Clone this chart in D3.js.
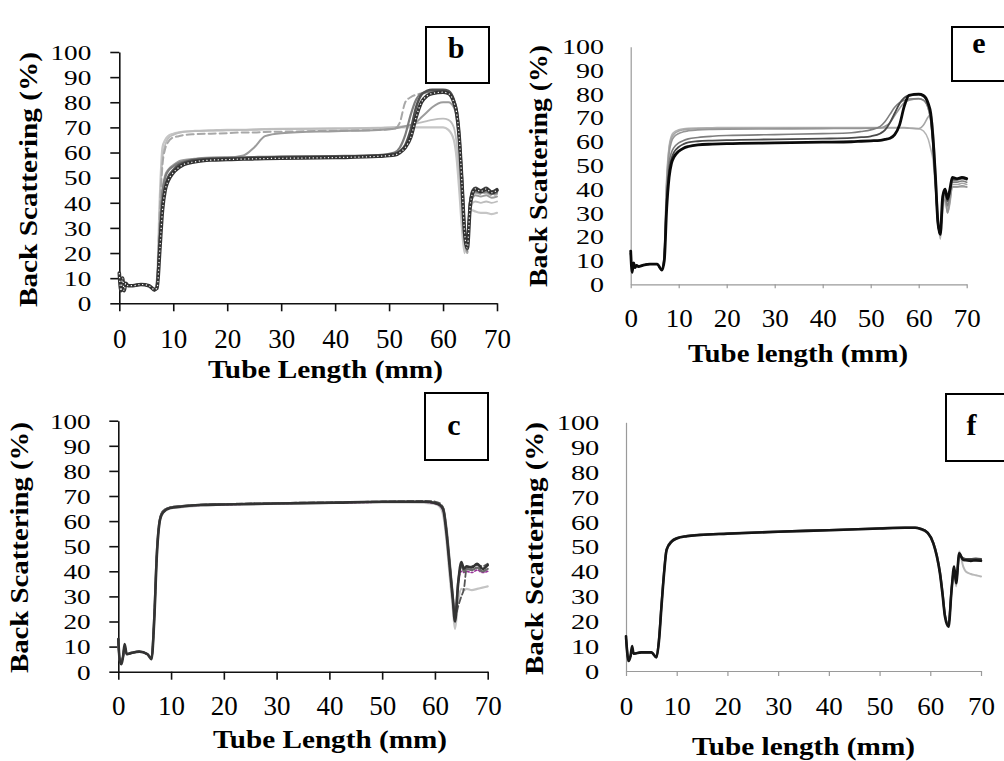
<!DOCTYPE html>
<html><head><meta charset="utf-8">
<script src="https://cdn.jsdelivr.net/npm/d3@7"></script>
<style>html,body{margin:0;padding:0;background:#fff;} svg{display:block}</style>
</head><body><svg id="chart" width="1004" height="761"></svg>
<script>
// ---------- tick labels ----------
const yTicks = [0,10,20,30,40,50,60,70,80,90,100];
const xTicks = [0,10,20,30,40,50,60,70];

// ---------- panel b ----------
const bX = [0,0.3,0.6,0.9,1.2,1.6,2.5,4,5.5,6.5,
            7,7.5,8,8.5,9,10,11,12,14,17,
            20,23,25,27,30,40,48,51,52,53,
            54,55,56,57,58,60,61,62,62.5,63,
            63.5,64,64.5,65,65.5,66,67,68,69,70];
const bLight1 = [12,6,10,6,8,7,7,7.5,7,5.5,
 10,42,62,65,66.5,67.5,68,68.3,68.6,68.8,
 69,69,69.2,69.3,69.4,69.6,69.8,70,70,70,
 70,70,70,70,70,70,69,65,58,45,
 30,20,28,37,37,36.5,36,36,35.5,36];
const bLight3 = [12,6,10,6,8,7,7,7.5,7,5.5,
 9,38,58,63,65.5,67,67.8,68.2,68.5,68.7,
 68.8,69,69,69.2,69.3,69.5,69.8,70,70.3,70.5,
 71,71.5,72,72.5,73,73.5,73,70,64,52,
 38,24,20,35,40,40.5,40,40.5,40,40.5];
const bDash = [12,6,10,6,8,7,7,7.5,7,5.5,
 9,36,55,61.5,64,66,66.5,67,67.3,67.5,
 67.7,68,68,68.2,68.3,68.7,69,69.5,72,80,
 82,83,83.5,84,84,84,83.5,80,75,64,
 46,27,20,38,43,44,43.5,44,43,43.5];
const bStep = [12,6,10,6,8,7,7,7.5,7,5.5,
 8,30,45,51,53,55,56.5,57,57.5,58,
 58,58.8,62,66.5,67.7,68.5,69,69.5,70,70.5,
 71,72,74,76,78,80,80,78,74,64,
 46,28,21,38,42,43,42.5,43,42,42.5];
const bMid = [12,6,10,6,8,7,7,7.5,7,5.5,
 8,28,44,50,52.5,54.5,55.8,56.5,57.3,57.8,
 58,58.1,58.2,58.3,58.4,58.6,59,60,62,67,
 75,81,83.5,84,84.2,84.2,83.5,80,76,65,
 47,28,21,40,44,44.5,44,44.5,43.5,44];
const bDark2 = [11,6,9,6,8,7,7,7.5,7,5,
 7,24,39,46.5,50,53,55,56,57,57.5,
 57.7,57.8,58,58,58.2,58.4,58.8,59.5,60.5,63,
 69,78,83,84.5,85,85,84.5,81,77,67,
 50,30,23,40,45,46,45,46,44.5,45.5];
const bDark = [12,5,10,5,8,7,7,7.5,7,5.5,
 6,21,37,45,48.5,52,54,55.3,56.3,57,
 57.2,57.4,57.5,57.6,57.7,58,58.5,59,60,62,
 66,74,80,82.5,83.5,84,83.5,80,76,66,
 48,28,22,38,44,45.5,44.5,45.5,44,45];

// ---------- panel e ----------
const eX = [0,0.3,0.6,0.9,1.2,1.6,2.5,4,5.5,6.5,
            7,7.5,8,8.5,9,10,11,12,14,17,
            20,30,40,46,48,50,52,53,54,55,
            56,57,58,60,61,62,62.5,63,63.5,64,
            64.5,65,65.5,66,66.5,67,68,69,70];
const eG1 = [13,6,9,7,8,7.5,8,8.5,8.5,6,
 14,45,58,62.5,64,65,65.5,65.7,65.8,65.9,
 66,66,66,66,66,66,66,66,66,66,
 66,66,65.8,65.5,64.5,61,57,52,40,28,
 19,30,36,30,34,41,41,41,41];
const eG2 = [13,6,9,7,8,7.5,8,8.5,8.5,6,
 13,43,57,61.5,63.2,64.5,65,65.3,65.5,65.6,
 65.6,65.7,65.8,65.8,65.8,65.8,65.8,65.8,65.8,65.8,
 65.8,65.8,65.7,65.5,67,70.5,71.5,65,48,30,
 22,34,37,31,36,42,42,42.5,42];
const eG3 = [13,6,9,7,8,7.5,8,8.5,8.5,6,
 13,42,55,60,62,63.5,64.2,64.6,65,65.2,
 65.3,65.4,65.5,65.6,65.6,65.7,65.8,66.5,68,71,
 74,76.5,77.5,78,77.5,74,69,57,41,25,
 21,33,36,30,35,41,41,41.5,41];
const eG4 = [13,6,9,7,8,7.5,8,8.5,8.5,6,
 12,38,51,55.5,57.5,59.5,60.5,61.2,61.8,62.3,
 62.6,63,63.4,63.8,64.3,65,66.5,68.5,71.5,74.5,
 76.5,77.5,78,78.2,77.5,74,69,58,42,26,
 21,35,38,33,38,43,43,43.5,43];
const eG5 = [13,6,9,7,8,7.5,8,8.5,8.5,6,
 11,35,48,53,55.5,57.8,59,59.7,60.2,60.5,
 60.7,61,61.3,61.6,61.9,62.3,63.5,65,68,72,
 76,78.5,79.5,79.8,79,75.5,71,60,44,26,
 21,36,39,35,39,44,44,44.5,44];
const eBlack = [14,5,9,7,8,7.5,8,8.5,8.5,6,
 10,32,45,51,53.5,56,57.3,58,58.7,59,
 59.2,59.5,59.8,60,60.2,60.4,60.6,61,61.5,63,
 67,75,79.5,80,79.5,76,72,61,45,26,
 21,37,40,36,40,45,44.5,45,44.5];

// ---------- panel c ----------
const cX = [0,0.3,0.6,0.9,1.2,1.6,2.5,4,5.5,6.3,
            6.8,7.3,7.9,8.5,9.8,12,15.5,20,30,40,
            50,55,58,60,61,61.6,62.2,62.8,63.4,63.8,
            64.4,65,65.5,66,67,68,69,70];
const cLight = [12,4,4,6,10,7,7.5,8,7,5.5,
 20,46,60,63.5,65,65.6,66.2,66.5,66.9,67.2,
 67.5,67.5,67.3,66.8,65.5,62,52,38,25,17,
 28,33,32.5,33,32.5,33,33.5,34];
const cPurple = [12,4,4,6,10,7,7.5,8,7,5.5,
 21,47,60.5,63.8,65.2,65.8,66.3,66.5,67,67.2,
 67.5,67.5,67.5,67,66,64,55,42,29,21,
 35,40,39.5,40,39.5,40.5,39.5,40];
const cDash = [13,4,4,6,10,7,7.5,8,7,5.5,
 21,47,61,64,65.5,66,66.5,66.8,67.2,67.5,
 67.8,68,68,67.8,67,65,56,43,29,22,
 26,30,33,41,42,42.5,42,43];
const cGray = [12,4,4,6,10,7,7.5,8,7,5.5,
 22,48,61,64,65.4,66,66.5,66.7,67.1,67.4,
 67.7,67.8,67.7,67.3,66.5,65,57,44,30,21,
 36,42,40,41,40.5,41.5,40,41];
const cMain = [13,4,3,6,11,7,7.5,8,7,5,
 20,46,60.5,63.5,65.2,65.8,66.4,66.6,67,67.3,
 67.7,67.7,67.7,67.2,66.3,64.4,55,41.8,28.6,20,
 35,43.7,41,42,41.5,43,41,42.5];

// ---------- panel f ----------
const fX = [0,0.5,0.9,1.2,1.5,3,5,6,6.5,7,
            7.5,8,9,10,12,14.6,20,30,40,50,
            55,57,58,59.5,60.6,61.3,61.9,62.4,62.9,63.6,
            64.2,64.7,65.1,65.7,66.5,67,68,69,70];
const fLight = [13,5,6,9,7,7.5,7.5,5.5,12,26,
 39,48.5,51.8,53.2,54.1,54.6,55.1,55.9,56.5,57.2,
 57.5,57.5,57,55.3,51,45.5,39,31,22,19,
 33,40,34,48,42,40,39,38.5,38];
const fDark2 = [13,5,6,9,7,7.5,7.5,5.5,13,27,
 40,49,52.3,53.5,54.3,54.8,55.3,56.1,56.7,57.4,
 57.7,57.7,57.3,55.6,51.5,46.5,40,32,22.5,18.5,
 33,41,36,46.5,45.3,45,45,45.2,45];
const fMain = [14,4,6,10,7,7.5,7.5,5.5,12,26,
 39,48.6,52,53.3,54.2,54.7,55.2,56,56.6,57.3,
 57.6,57.6,57.2,55.5,51.3,46,39.3,31,21.8,17.8,
 32.6,42,35.3,47.3,44.6,44.5,44.3,44.5,44.3];

// ---------- drawing ----------
const FONT = '"Liberation Serif","Times New Roman",Times,serif';
const svg = d3.select("#chart");

const panels = [
 {letter:"b", xs:bX, x0:119.3, x1:497, y0:303.3, y1:52,
  series:[
   {v:bLight1,c:"#c6c6c6",w:2.2},{v:bLight3,c:"#bdbdbd",w:1.8},
   {v:bDash,c:"#a8a8a8",w:2,d:"7,4"},{v:bStep,c:"#9c9c9c",w:2},
   {v:bMid,c:"#7c7c7c",w:2.2},{v:bDark2,c:"#505050",w:2.5},
   {v:bDark,c:"#333",w:3.6,dots:true}],
  axisColor:"#111", axisW:1.6, yTick:9, yPad:19, xTick:8, xLabY:44.7,
  yFont:21.5, yCharW:13.6, xFont:27, xCharW:null,
  xTitle:"Tube Length (mm)", xTitleX:325.5, xTitleY:378, xTitleLen:235,
  yTitleX:37, yTitleY:179.5, yTitleLen:255, tFont:25,
  box:[426,27,63,56], lx:456, ly:58},
 {letter:"e", xs:eX, x0:630.7, x1:966.7, y0:284.3, y1:46.7,
  series:[
   {v:eG1,c:"#b4b4b4",w:1.6},{v:eG2,c:"#a6a6a6",w:1.6},
   {v:eG3,c:"#969696",w:1.6},{v:eG4,c:"#7e7e7e",w:1.6},
   {v:eG5,c:"#4a4a4a",w:1.8},{v:eBlack,c:"#0a0a0a",w:2.8}],
  axisColor:"#9a9a9a", axisW:1.2, yTick:0, yPad:26.7, xTick:4, xLabY:42.7,
  yFont:20.5, yCharW:14, xFont:25, xCharW:13.5,
  xTitle:"Tube length (mm)", xTitleX:798, xTitleY:362, xTitleLen:220,
  yTitleX:546.5, yTitleY:166, yTitleLen:242, tFont:25,
  box:[952,27,60,54], lx:979, ly:53},
 {letter:"c", xs:cX, x0:118.3, x1:487.7, y0:671.7, y1:420.7,
  series:[
   {v:cLight,c:"#c4c4c4",w:2.2},{v:cPurple,c:"#993399",w:1.6,d:"2,2"},
   {v:cDash,c:"#555",w:1.8,d:"6,3"},{v:cGray,c:"#6a6a6a",w:2.2},
   {v:cMain,c:"#333",w:2.6}],
  axisColor:"#111", axisW:1.6, yTick:9, yPad:18.6, xTick:8, xLabY:43.3,
  yFont:21.5, yCharW:13.6, xFont:27, xCharW:null,
  xTitle:"Tube Length (mm)", xTitleX:330, xTitleY:748, xTitleLen:234,
  yTitleX:28, yTitleY:547.5, yTitleLen:251, tFont:25,
  box:[425,393,63,67], lx:454, ly:435},
 {letter:"f", xs:fX, x0:626, x1:981, y0:671, y1:422.3,
  series:[
   {v:fLight,c:"#b8b8b8",w:2},{v:fDark2,c:"#444",w:2.2},
   {v:fMain,c:"#151515",w:2.6}],
  axisColor:"#9a9a9a", axisW:1.2, yTick:0, yPad:26.7, xTick:5, xLabY:44,
  yFont:21.5, yCharW:14.2, xFont:25, xCharW:13.5,
  xTitle:"Tube length (mm)", xTitleX:803.5, xTitleY:755, xTitleLen:223,
  yTitleX:543, yTitleY:548.5, yTitleLen:253, tFont:25,
  box:[946,394,60,67], lx:971.5, ly:435}
];

panels.forEach(p => {
  const x = d3.scaleLinear().domain([0,70]).range([p.x0,p.x1]);
  const y = d3.scaleLinear().domain([0,100]).range([p.y0,p.y1]);
  const g = svg.append("g");

  // axes
  const ya = g.append("g").attr("transform",`translate(${p.x0},0)`)
    .call(d3.axisLeft(y).tickValues(yTicks).tickSize(p.yTick).tickSizeOuter(0).tickPadding(p.yPad));
  const xa = g.append("g").attr("transform",`translate(0,${p.y0})`)
    .call(d3.axisBottom(x).tickValues(xTicks).tickSize(p.xTick).tickSizeOuter(0).tickPadding(0));
  [ya,xa].forEach(a => {
    a.select(".domain").attr("stroke",p.axisColor).attr("stroke-width",p.axisW);
    a.selectAll(".tick line").attr("stroke",p.axisColor).attr("stroke-width",p.axisW);
    a.selectAll("text").attr("fill","#000").style("font-family",FONT);
  });
  ya.selectAll("text").style("font-size",p.yFont+"px").attr("dy","0.34em");
  xa.selectAll("text").style("font-size",p.xFont+"px").attr("dy",null).attr("y",p.xLabY);
  if (p.yCharW) ya.selectAll("text").attr("textLength",d=>String(d).length*p.yCharW).attr("lengthAdjust","spacingAndGlyphs");
  if (p.xCharW) xa.selectAll("text").attr("textLength",d=>String(d).length*p.xCharW).attr("lengthAdjust","spacingAndGlyphs");

  // series
  const line = d3.line().x((d,i)=>x(p.xs[i])).y(d=>y(d)).curve(d3.curveMonotoneX);
  p.series.forEach(s => {
    g.append("path").attr("d",line(s.v)).attr("fill","none")
      .attr("stroke",s.c).attr("stroke-width",s.w)
      .attr("stroke-linejoin","round").attr("stroke-linecap","round")
      .attr("stroke-dasharray",s.d||null);
    if (s.dots) {
      g.append("path").attr("d",line(s.v)).attr("fill","none")
        .attr("stroke","#fff").attr("stroke-width",1.2)
        .attr("stroke-dasharray","1.2,2.6");
    }
  });

  // titles
  g.append("text").attr("x",p.xTitleX).attr("y",p.xTitleY)
    .attr("text-anchor","middle").style("font-family",FONT).style("font-weight","bold")
    .style("font-size",p.tFont+"px").attr("textLength",p.xTitleLen).attr("lengthAdjust","spacingAndGlyphs")
    .text(p.xTitle);
  g.append("text").attr("transform",`translate(${p.yTitleX},${p.yTitleY}) rotate(-90)`)
    .attr("text-anchor","middle").style("font-family",FONT).style("font-weight","bold")
    .style("font-size",p.tFont+"px").attr("textLength",p.yTitleLen).attr("lengthAdjust","spacingAndGlyphs")
    .text("Back Scattering (%)");

  // letter box
  g.append("rect").attr("x",p.box[0]).attr("y",p.box[1]).attr("width",p.box[2]).attr("height",p.box[3])
    .attr("fill","#fff").attr("stroke","#000").attr("stroke-width",2);
  g.append("text").attr("x",p.lx).attr("y",p.ly).attr("text-anchor","middle")
    .style("font-family",FONT).style("font-weight","bold").style("font-size","30px")
    .text(p.letter);
});
</script></body></html>
